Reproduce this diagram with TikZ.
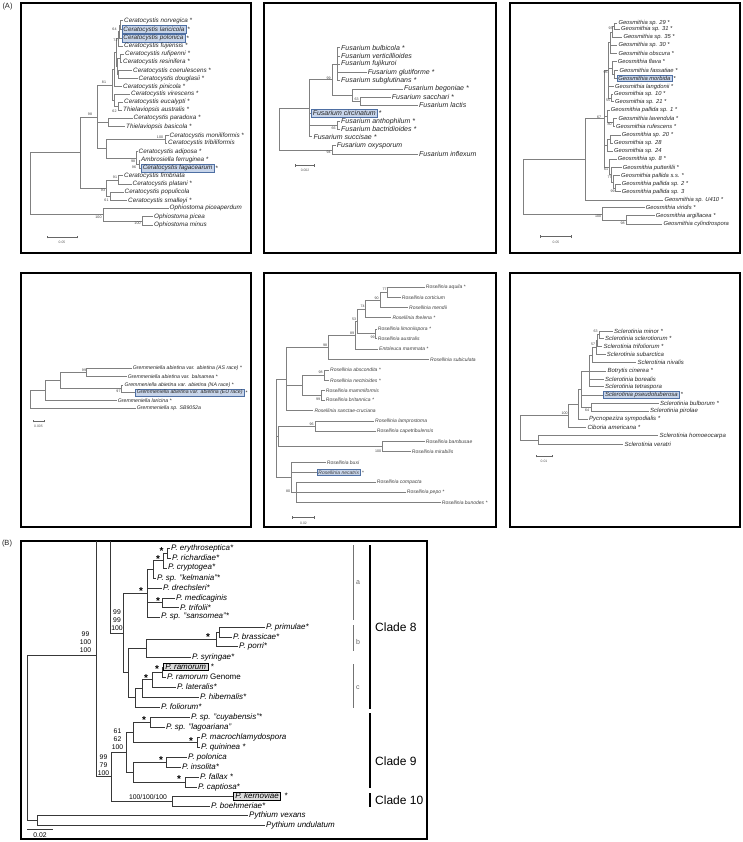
\documentclass[tikz,border=0pt]{standalone}
\usepackage{fontspec}
\setmainfont{Liberation Sans}
\definecolor{hlfill}{HTML}{C8D5EA}
\definecolor{hlline}{HTML}{4E6FA3}
\newcounter{nn}
\newcommand\E[2]{\draw[br] (#1) |- (#2);}
\newcommand\EB[2]{\draw[brB] (#1) |- (#2);}
\newcommand\lab[3][]{\stepcounter{nn}\node[#1] (L\arabic{nn}) at (#2) {#3};}
\begin{document}
\begin{tikzpicture}[x=1pt,y=-1pt,
 panel/.style={draw=black, line width=2.2pt},
 br/.style={draw=black!50, line width=0.55pt},
 brB/.style={draw=black!78, line width=0.8pt},
 leaf/.style={anchor=west, inner xsep=1pt, inner ysep=0.4pt, text=black!85},
 fCe/.style={leaf, font=\fontsize{6.3}{7}\selectfont\itshape},
 fFu/.style={leaf, font=\fontsize{7}{8}\selectfont\itshape},
 fGe/.style={leaf, font=\fontsize{5.8}{6.5}\selectfont\itshape},
 fGr/.style={leaf, font=\fontsize{5.2}{6}\selectfont\itshape},
 fRo/.style={leaf, font=\fontsize{5}{6}\selectfont\itshape, text=black!75},
 fSc/.style={leaf, font=\fontsize{6}{7}\selectfont\itshape},
 fPh/.style={leaf, font=\fontsize{8}{9}\selectfont\itshape, text=black},
 hl/.style={draw=hlline, fill=hlfill, line width=0.5pt, inner xsep=1.5pt, inner ysep=1pt},
 bhl/.style={draw=black, fill=black!14, line width=0.7pt, inner xsep=2pt, inner ysep=1pt},
 sup/.style={font=\fontsize{3.6}{4}\selectfont, text=black!75, inner sep=0.2pt},
 supB/.style={font=\fontsize{6.8}{8}\selectfont, text=black, inner sep=0.2pt, align=center},
 star/.style={font=\fontsize{10}{10}\selectfont\bfseries, text=black, inner sep=0pt},
 sbar/.style={draw=black!60, line width=0.5pt},
 slab/.style={font=\fontsize{3.4}{4}\selectfont, text=black!65, inner sep=0.2pt},
 tag/.style={font=\fontsize{7.5}{8}\selectfont, text=black!85, inner sep=0pt},
 brk/.style={draw=black!55, line width=0.6pt},
 thk/.style={draw=black, line width=1.6pt},
 clade/.style={font=\fontsize{12}{13}\selectfont, anchor=west, inner sep=0pt},
 brkl/.style={font=\fontsize{7}{8}\selectfont, text=black!60, anchor=west, inner sep=0pt}
]
\useasboundingbox (0,0) rectangle (742,842);
\fill[white] (0,0) rectangle (742,842);

\node[tag] (tagA) at (7.5,6.5) {(A)};
\node[tag] (tagB) at (7,543.5) {(B)};

% ================= A1 Ceratocystis =================
\draw[panel] (21,3) rectangle (251,253);
\node[fCe] (c1) at (123,20.7) {Ceratocystis norvegica *};
\node[fCe,hl] (c2) at (121.7,29.6) {Ceratocystis laricicola};
\node[fCe] (c2s) at (c2.east) {*};
\node[fCe,hl] (c3) at (121.7,37.9) {Ceratocystis polonica};
\node[fCe] (c3s) at (c3.east) {*};
\node[fCe] (c4) at (123,46) {Ceratocystis fujiensis *};
\node[fCe] (c5) at (124,54) {Ceratocystis rufipenni *};
\node[fCe] (c6) at (122,62.3) {Ceratocystis resinifera *};
\node[fCe] (c7) at (132,70.7) {Ceratocystis coerulescens *};
\node[fCe] (c8) at (137.5,78.7) {Ceratocystis douglasii *};
\node[fCe] (c9) at (122,86.7) {Ceratocystis pinicola *};
\node[fCe] (c10) at (130,94.3) {Ceratocystis virescens *};
\node[fCe] (c11) at (123,102.3) {Ceratocystis eucalypti *};
\node[fCe] (c12) at (122,110) {Thielaviopsis australis *};
\node[fCe] (c13) at (132.5,118.3) {Ceratocystis paradoxa *};
\node[fCe] (c14) at (125,126.7) {Thielaviopsis basicola *};
\node[fCe] (c15) at (168.5,135.7) {Ceratocystis moniliformis *};
\node[fCe] (c16) at (167,143.3) {Ceratocystis tribiliformis};
\node[fCe] (c17) at (137.5,151.7) {Ceratocystis adiposa *};
\node[fCe] (c18) at (140,160) {Ambrosiella ferruginea *};
\node[fCe,hl] (c19) at (141,168) {Ceratocystis fagacearum};
\node[fCe] (c19s) at (c19.east) {*};
\node[fCe] (c20) at (123,175.7) {Ceratocystis fimbriata};
\node[fCe] (c21) at (131.5,184) {Ceratocystis platani *};
\node[fCe] (c22) at (123.5,192.3) {Ceratocystis populicola};
\node[fCe] (c23) at (127,200.7) {Ceratocystis smalleyi *};
\node[fCe] (c24) at (168.5,208.3) {Ophiostoma piceaperdum};
\node[fCe] (c25) at (153,216.7) {Ophiostoma picea};
\node[fCe] (c26) at (153,225) {Ophiostoma minus};
\coordinate (t1) at (120.5,25.15);
\coordinate (t2) at (119.5,31.5);
\coordinate (t3) at (118.5,38.75);
\coordinate (t4) at (120,58.15);
\coordinate (t5) at (118,74.7);
\coordinate (t6) at (117,66.4);
\coordinate (t7) at (116,52.6);
\coordinate (t8) at (114.5,69.65);
\coordinate (ce) at (118,106.15);
\coordinate (cv) at (114,100.2);
\coordinate (cZ) at (112,84.9);
\coordinate (cP) at (108,122.5);
\coordinate (cM) at (165,139.5);
\coordinate (cf1) at (139,164);
\coordinate (cf2) at (136,157.85);
\coordinate (cMF) at (106,148.7);
\coordinate (cX) at (97,116.8);
\coordinate (cL1) at (118,179.85);
\coordinate (cL2) at (110,196.5);
\coordinate (cL3) at (106,188.2);
\coordinate (cC) at (80,152.5);
\coordinate (cpm) at (142,220.85);
\coordinate (cO) at (103,214.6);
\coordinate (cR) at (30,183.5);
\E{t1}{c1}\E{t1}{c2}\E{t2}{t1}\E{t2}{c3}\E{t3}{t2}\E{t3}{c4}
\E{t4}{c5}\E{t4}{c6}\E{t5}{c7}\E{t5}{c8}\E{t6}{t4}\E{t6}{t5}
\E{t7}{t3}\E{t7}{t6}\E{t8}{t7}\E{t8}{c9}
\E{ce}{c11}\E{ce}{c12}\E{cv}{c10}\E{cv}{ce}\E{cZ}{t8}\E{cZ}{cv}
\E{cP}{c13}\E{cP}{c14}\E{cM}{c15}\E{cM}{c16}
\E{cf1}{c18}\E{cf1}{c19}\E{cf2}{c17}\E{cf2}{cf1}\E{cMF}{cM}\E{cMF}{cf2}
\E{cX}{cZ}\E{cX}{cP}\E{cX}{cMF}
\E{cL1}{c20}\E{cL1}{c21}\E{cL2}{c22}\E{cL2}{c23}\E{cL3}{cL1}\E{cL3}{cL2}
\E{cC}{cX}\E{cC}{cL3}
\E{cpm}{c25}\E{cpm}{c26}\E{cO}{c24}\E{cO}{cpm}
\E{cR}{cC}\E{cR}{cO}
\lab[sup]{114.5,29.5}{64}
\lab[sup]{115.5,40.5}{72}
\lab[sup]{104,82.3}{81}
\lab[sup]{90,114.3}{98}
\lab[sup]{114.5,111}{62}
\lab[sup]{160,137.2}{100}
\lab[sup]{133,160.8}{98}
\lab[sup]{134,167.5}{96}
\lab[sup]{115,177}{91}
\lab[sup]{103,190}{93}
\lab[sup]{106.5,200.5}{61}
\lab[sup]{98.5,217}{100}
\lab[sup]{137.5,223.5}{100}
\coordinate (sa1) at (47,237); \coordinate (sa2) at (77,237);
\draw[sbar] (sa1) -- (sa2);
\draw[sbar] ([yshift=-1.3pt]sa1) -- ([yshift=1.3pt]sa1);
\draw[sbar] ([yshift=-1.3pt]sa2) -- ([yshift=1.3pt]sa2);
\node[slab] (sal) at (62,242.5) {0.05};

% ================= A2 Fusarium =================
\draw[panel] (264,3) rectangle (496,253);
\node[fFu] (f1) at (340,47.7) {Fusarium bulbicola *};
\node[fFu] (f2) at (340,56) {Fusarium verticillioides};
\node[fFu] (f3) at (340,64) {Fusarium fujikuroi};
\node[fFu] (f4) at (366.7,72.3) {Fusarium glutiforme *};
\node[fFu] (f5) at (340,80.7) {Fusarium subglutinans *};
\node[fFu] (f6) at (403,89) {Fusarium begoniae *};
\node[fFu] (f7) at (390.7,97.3) {Fusarium sacchari *};
\node[fFu] (f8) at (418,105.3) {Fusarium lactis};
\node[fFu,hl] (f9) at (311,113.3) {Fusarium circinatum};
\node[fFu] (f9s) at (f9.east) {*};
\node[fFu] (f10) at (340,121.7) {Fusarium anthophilum *};
\node[fFu] (f11) at (340,129) {Fusarium bactridioides *};
\node[fFu] (f12) at (312.3,136.7) {Fusarium succisae *};
\node[fFu] (f13) at (335.7,145.7) {Fusarium oxysporum};
\node[fFu] (f14) at (418,154) {Fusarium inflexum};
\coordinate (fG1) at (337.7,64.2);
\coordinate (fB1) at (360,101.3);
\coordinate (fB2) at (352.7,95.15);
\coordinate (fG2) at (332.7,79.7);
\coordinate (fA1) at (337.3,125.35);
\coordinate (fFc) at (309.3,108.2);
\coordinate (fOx) at (332.3,149.85);
\coordinate (fRt) at (279.3,129);
\E{fG1}{f1}\E{fG1}{f2}\E{fG1}{f3}\E{fG1}{f4}\E{fG1}{f5}
\E{fB1}{f7}\E{fB1}{f8}\E{fB2}{f6}\E{fB2}{fB1}\E{fG2}{fG1}\E{fG2}{fB2}
\E{fA1}{f10}\E{fA1}{f11}
\E{fFc}{fG2}\E{fFc}{f9}\E{fFc}{fA1}\E{fFc}{f12}
\E{fOx}{f13}\E{fOx}{f14}\E{fRt}{fFc}\E{fRt}{fOx}
\lab[sup]{328.5,78}{99}
\lab[sup]{356.5,99.5}{63}
\lab[sup]{333.5,128}{66}
\lab[sup]{328.5,152.5}{94}
\coordinate (sf1) at (295.7,165.7); \coordinate (sf2) at (314,165.7);
\draw[sbar] (sf1) -- (sf2);
\draw[sbar] ([yshift=-1.3pt]sf1) -- ([yshift=1.3pt]sf1);
\draw[sbar] ([yshift=-1.3pt]sf2) -- ([yshift=1.3pt]sf2);
\node[slab] (sfl) at (305,170.5) {0.002};

% ================= A3 Geosmithia =================
\draw[panel] (510,3) rectangle (740,253);
\node[fGe] (g1) at (617.3,23.3) {Geosmithia sp. 29 *};
\node[fGe] (g2) at (620,29.3) {Geosmithia sp. 31 *};
\node[fGe] (g3) at (622.3,37.3) {Geosmithia sp. 35 *};
\node[fGe] (g4) at (617.3,45) {Geosmithia sp. 30 *};
\node[fGe] (g5) at (617.3,53.3) {Geosmithia obscura *};
\node[fGe] (g6) at (616.7,61.7) {Geosmithia flava *};
\node[fGe] (g7) at (618.3,70) {Geosmithia fassatiae *};
\node[fGe,hl] (g8) at (616.7,78.5) {Geosmithia morbida};
\node[fGe] (g8s) at (g8.east) {*};
\node[fGe] (g9) at (614,86.7) {Geosmithia langdonii *};
\node[fGe] (g10) at (613,94.3) {Geosmithia sp. 10 *};
\node[fGe] (g11) at (614,101.7) {Geosmithia sp. 21 *};
\node[fGe] (g12) at (609.7,110) {Geosmithia pallida sp. 1 *};
\node[fGe] (g13) at (617.3,118.3) {Geosmithia lavendula *};
\node[fGe] (g14) at (615,126.7) {Geosmithia rufescens *};
\node[fGe] (g15) at (620.7,135) {Geosmithia sp. 20 *};
\node[fGe] (g16) at (613,143.3) {Geosmithia sp. 28};
\node[fGe] (g17) at (613,151) {Geosmithia sp. 24};
\node[fGe] (g18) at (616.7,159.3) {Geosmithia sp. 8 *};
\node[fGe] (g19) at (621.7,167.7) {Geosmithia putterillii *};
\node[fGe] (g20) at (620,175.7) {Geosmithia pallida s.s. *};
\node[fGe] (g21) at (620.7,184) {Geosmithia pallida sp. 2 *};
\node[fGe] (g22) at (620.7,191.7) {Geosmithia pallida sp. 3};
\node[fGe] (g23) at (663.3,200) {Geosmithia sp. U410 *};
\node[fGe] (g24) at (644.7,207.7) {Geosmithia viridis *};
\node[fGe] (g25) at (654.7,215.7) {Geosmithia argillacea *};
\node[fGe] (g26) at (662.3,224) {Geosmithia cylindrospora};
\coordinate (ga1) at (614.3,26.3);
\coordinate (ga2) at (612,31.8);
\coordinate (ga3) at (610.5,42.55);
\coordinate (ga4) at (614,74.25);
\coordinate (ga5) at (612.7,67.95);
\coordinate (ga6) at (611,98);
\coordinate (gg1) at (608.3,70.3);
\coordinate (gb1) at (613,122.5);
\coordinate (gb2) at (607.5,116.25);
\coordinate (gc1) at (610,139.15);
\coordinate (gc2) at (607,145.1);
\coordinate (gd1) at (615,187.85);
\coordinate (gd2) at (613,181.8);
\coordinate (gd3) at (611.5,174.75);
\coordinate (gd4) at (609,167);
\coordinate (gM) at (604,118.65);
\coordinate (gN1) at (585.7,159.3);
\coordinate (gv2) at (626.7,219.85);
\coordinate (gv) at (602.7,213.8);
\coordinate (gRt) at (523.3,186.5);
\E{ga1}{g1}\E{ga1}{g2}\E{ga2}{ga1}\E{ga2}{g3}
\E{ga3}{ga2}\E{ga3}{g4}\E{ga3}{g5}
\E{ga4}{g7}\E{ga4}{g8}\E{ga5}{g6}\E{ga5}{ga4}
\E{ga6}{g10}\E{ga6}{g11}
\E{gg1}{ga3}\E{gg1}{ga5}\E{gg1}{g9}\E{gg1}{ga6}
\E{gb1}{g13}\E{gb1}{g14}\E{gb2}{g12}\E{gb2}{gb1}
\E{gc1}{g15}\E{gc1}{g16}\E{gc2}{gc1}\E{gc2}{g17}
\E{gd1}{g21}\E{gd1}{g22}\E{gd2}{g20}\E{gd2}{gd1}
\E{gd3}{g19}\E{gd3}{gd2}\E{gd4}{g18}\E{gd4}{gd3}
\E{gM}{gg1}\E{gM}{gb2}\E{gM}{gc2}\E{gM}{gd4}
\E{gN1}{gM}\E{gN1}{g23}
\E{gv2}{g25}\E{gv2}{g26}\E{gv}{g24}\E{gv}{gv2}
\E{gRt}{gN1}\E{gRt}{gv}
\lab[sup]{610.5,28.5}{93}
\lab[sup]{605.5,72}{96}
\lab[sup]{608,100.5}{55}
\lab[sup]{599,116.8}{67}
\lab[sup]{609.5,124.5}{80}
\lab[sup]{606,169.5}{61}
\lab[sup]{609.5,177.3}{77}
\lab[sup]{612.5,191}{99}
\lab[sup]{598,216.5}{100}
\lab[sup]{622.5,223}{98}
\coordinate (sg1) at (540,236.7); \coordinate (sg2) at (571.7,236.7);
\draw[sbar] (sg1) -- (sg2);
\draw[sbar] ([yshift=-1.3pt]sg1) -- ([yshift=1.3pt]sg1);
\draw[sbar] ([yshift=-1.3pt]sg2) -- ([yshift=1.3pt]sg2);
\node[slab] (sgl) at (556,242) {0.05};

% ================= A4 Gremmeniella =================
\draw[panel] (21,273) rectangle (251,527);
\node[fGr] (h1) at (131.7,368.3) {Gremmeniella abietina var. abietina (AS race) *};
\node[fGr] (h2) at (126.7,376.7) {Gremmeniella abietina var. balsamea *};
\node[fGr] (h3) at (123.3,385) {Gremmeniella abietina var. abietina (NA race) *};
\node[fGr,hl] (h4) at (135,392.5) {Gremmeniella abietina var. abietina (EU race)};
\node[fGr] (h4s) at (h4.east) {*};
\node[fGr] (h5) at (116.7,400.7) {Gremmeniella laricina *};
\node[fGr] (h6) at (135.7,408.3) {Gremmeniella sp. SB9052a};
\coordinate (hH1) at (86.7,372.5);
\coordinate (hH2) at (121.7,388.75);
\coordinate (hH3) at (60,380.6);
\coordinate (hH4) at (45,390.65);
\coordinate (hRt) at (30,399.5);
\E{hH1}{h1}\E{hH1}{h2}\E{hH2}{h3}\E{hH2}{h4}
\E{hH3}{hH1}\E{hH3}{hH2}\E{hH4}{hH3}\E{hH4}{h5}
\E{hRt}{hH4}\E{hRt}{h6}
\lab[sup]{84,370}{99}
\lab[sup]{118.5,391.5}{97}
\coordinate (sh1) at (33,421); \coordinate (sh2) at (44,421);
\draw[sbar] (sh1) -- (sh2);
\draw[sbar] ([yshift=-1.3pt]sh1) -- ([yshift=1.3pt]sh1);
\draw[sbar] ([yshift=-1.3pt]sh2) -- ([yshift=1.3pt]sh2);
\node[slab] (shl) at (38.5,426) {0.005};

% ================= A5 Rosellinia =================
\draw[panel] (264,273) rectangle (496,527);
\node[fRo] (r1) at (424.7,287.3) {Rosellinia aquila *};
\node[fRo] (r2) at (400.7,297.3) {Rosellinia corticium};
\node[fRo] (r3) at (408,307.7) {Rosellinia mendii};
\node[fRo] (r4) at (391.3,317.7) {Rosellinia thelena *};
\node[fRo] (r5) at (376.7,329) {Rosellinia limoniispora *};
\node[fRo] (r6) at (376.7,338.3) {Rosellinia australis};
\node[fRo] (r7) at (378,349) {Entoleuca mammata *};
\node[fRo] (r8) at (429,359.3) {Rosellinia subiculata};
\node[fRo] (r9) at (329,370) {Rosellinia abscondita *};
\node[fRo] (r10) at (329,380.7) {Rosellinia nectrioides *};
\node[fRo] (r11) at (324.7,390.7) {Rosellinia mammiformis};
\node[fRo] (r12) at (324.7,400) {Rosellinia britannica *};
\node[fRo] (r13) at (313.3,410.7) {Rosellinia sanctae-cruciana};
\node[fRo] (r14) at (374,421.7) {Rosellinia lamprostoma};
\node[fRo] (r15) at (375.7,431.7) {Rosellinia capetribulensis};
\node[fRo] (r16) at (424.7,441.7) {Rosellinia bambusae};
\node[fRo] (r17) at (410.7,451.7) {Rosellinia mirabilis};
\node[fRo] (r18) at (325.7,462.3) {Rosellinia buxi};
\node[fRo,hl] (r19) at (316.7,472.5) {Rosellinia necatrix};
\node[fRo] (r19s) at (r19.east) {*};
\node[fRo] (r20) at (375.7,482.7) {Rosellinia compacta};
\node[fRo] (r21) at (405.7,492.7) {Rosellinia pepo *};
\node[fRo] (r22) at (440.7,502.3) {Rosellinia bunodes *};
\coordinate (rR1) at (387.7,292.3);
\coordinate (rR2) at (380,300);
\coordinate (rR3) at (365,308.85);
\coordinate (rR4) at (375,333.65);
\coordinate (rR5) at (357.5,321.25);
\coordinate (rR6) at (355.5,335.1);
\coordinate (rR7) at (328.3,347.2);
\coordinate (rR8) at (324,375.35);
\coordinate (rR9) at (321.7,395.35);
\coordinate (rR10) at (302.7,385.35);
\coordinate (rR11) at (286,378.95);
\coordinate (rR12) at (315,426.7);
\coordinate (rR13) at (382.7,446.7);
\coordinate (rR14) at (278.3,436.7);
\coordinate (rR16) at (296.7,492.5);
\coordinate (rR17) at (291.7,477.4);
\coordinate (rR15) at (276,428.2);
\E{rR1}{r1}\E{rR1}{r2}\E{rR2}{rR1}\E{rR2}{r3}\E{rR3}{rR2}\E{rR3}{r4}
\E{rR4}{r5}\E{rR4}{r6}\E{rR5}{rR3}\E{rR5}{rR4}\E{rR6}{rR5}\E{rR6}{r7}
\E{rR7}{rR6}\E{rR7}{r8}\E{rR8}{r9}\E{rR8}{r10}\E{rR9}{r11}\E{rR9}{r12}
\E{rR10}{rR8}\E{rR10}{rR9}\E{rR11}{rR7}\E{rR11}{rR10}\E{rR11}{r13}
\E{rR12}{r14}\E{rR12}{r15}\E{rR13}{r16}\E{rR13}{r17}\E{rR14}{rR12}\E{rR14}{rR13}
\E{rR16}{r20}\E{rR16}{r21}\E{rR16}{r22}
\E{rR17}{r18}\E{rR17}{r19}\E{rR17}{rR16}
\E{rR15}{rR11}\E{rR15}{rR14}\E{rR15}{rR17}
\lab[sup]{384.5,289.5}{77}
\lab[sup]{376.5,298}{90}
\lab[sup]{362.5,306.5}{74}
\lab[sup]{354,319}{53}
\lab[sup]{352,333}{89}
\lab[sup]{372.5,337.5}{99}
\lab[sup]{325,345}{98}
\lab[sup]{320.5,372.5}{98}
\lab[sup]{318,399.5}{99}
\lab[sup]{311.5,424}{96}
\lab[sup]{378,451.5}{100}
\lab[sup]{288,491.5}{80}
\coordinate (sr1) at (292.7,517.3); \coordinate (sr2) at (314.3,517.3);
\draw[sbar] (sr1) -- (sr2);
\draw[sbar] ([yshift=-1.3pt]sr1) -- ([yshift=1.3pt]sr1);
\draw[sbar] ([yshift=-1.3pt]sr2) -- ([yshift=1.3pt]sr2);
\node[slab] (srl) at (303.5,523) {0.02};

% ================= A6 Sclerotinia =================
\draw[panel] (510,273) rectangle (740,527);
\node[fSc] (s1) at (613,331) {Sclerotinia minor *};
\node[fSc] (s2) at (604,338.3) {Sclerotinia sclerotiorum *};
\node[fSc] (s3) at (602.3,346) {Sclerotinia trifoliorum *};
\node[fSc] (s4) at (605.7,354.3) {Sclerotinia subarctica};
\node[fSc] (s5) at (636.3,362.7) {Sclerotinia nivalis};
\node[fSc] (s6) at (606.3,371) {Botrytis cinerea *};
\node[fSc] (s7) at (604,379) {Sclerotinia borealis};
\node[fSc] (s8) at (604,386.7) {Sclerotinia tetraspora};
\node[fSc,hl] (s9) at (603.3,394.8) {Sclerotinia pseudotuberosa};
\node[fSc] (s9s) at (s9.east) {*};
\node[fSc] (s10) at (659,403.3) {Sclerotinia bulborum *};
\node[fSc] (s11) at (649,411) {Sclerotinia pirolae};
\node[fSc] (s12) at (588,419) {Pycnopeziza sympodialis *};
\node[fSc] (s13) at (586.3,427.3) {Ciboria americana *};
\node[fSc] (s14) at (658.3,435.7) {Sclerotinia homoeocarpa};
\node[fSc] (s15) at (623.3,444) {Sclerotinia veratri};
\coordinate (sS1) at (599.3,334.65);
\coordinate (sS2) at (597.3,340.3);
\coordinate (sS3) at (596,347.3);
\coordinate (sS4) at (592.7,355);
\coordinate (sS5) at (589.3,370.85);
\coordinate (sS6) at (591.7,407.15);
\coordinate (sS7) at (581.7,389);
\coordinate (sS8) at (578.3,404);
\coordinate (sS9) at (568.3,415.65);
\coordinate (sS10) at (538.3,439.85);
\coordinate (sRt) at (520,427.75);
\E{sS1}{s1}\E{sS1}{s2}\E{sS2}{sS1}\E{sS2}{s3}\E{sS3}{sS2}\E{sS3}{s4}
\E{sS4}{sS3}\E{sS4}{s5}
\E{sS5}{sS4}\E{sS5}{s6}\E{sS5}{s7}\E{sS5}{s8}
\E{sS6}{s10}\E{sS6}{s11}
\E{sS7}{sS5}\E{sS7}{s9}\E{sS7}{sS6}
\E{sS8}{sS7}\E{sS8}{s12}\E{sS9}{sS8}\E{sS9}{s13}
\E{sS10}{s14}\E{sS10}{s15}\E{sRt}{sS9}\E{sRt}{sS10}
\lab[sup]{595.5,331.5}{63}
\lab[sup]{593,344.5}{57}
\lab[sup]{587,410.5}{64}
\lab[sup]{564.5,413.5}{100}
\coordinate (ss1) at (536,456); \coordinate (ss2) at (552.3,456);
\draw[sbar] (ss1) -- (ss2);
\draw[sbar] ([yshift=-1.3pt]ss1) -- ([yshift=1.3pt]ss1);
\draw[sbar] ([yshift=-1.3pt]ss2) -- ([yshift=1.3pt]ss2);
\node[slab] (ssl) at (544,461) {0.01};

% ================= B Phytophthora =================
\draw[draw=black, line width=1.3pt] (21,541) rectangle (427,839);
\node[fPh] (bE) at (170,548) {P. erythroseptica*};
\node[fPh] (bR) at (171,558) {P. richardiae*};
\node[fPh] (bC) at (167,568) {P. cryptogea*};
\node[fPh] (bK) at (156,578) {P. sp. "kelmania"*};
\node[fPh] (bD) at (162,588) {P. drechsleri*};
\node[fPh] (bM) at (175,598) {P. medicaginis};
\node[fPh] (bT) at (179,607.5) {P. trifolii*};
\node[fPh] (bS) at (160,617) {P. sp. "sansomea"*};
\node[fPh] (bPr) at (265,627) {P. primulae*};
\node[fPh] (bBr) at (232,637) {P. brassicae*};
\node[fPh] (bPo) at (238,646) {P. porri*};
\node[fPh] (bSy) at (191,657) {P. syringae*};
\node[fPh,bhl] (bRa) at (163,667) {P. ramorum};
\node[fPh] (bRas) at ([xshift=1pt]bRa.east) {*};
\node[fPh] (bRG) at (166,677) {P. ramorum \upshape Genome};
\node[fPh] (bLa) at (176,687) {P. lateralis*};
\node[fPh] (bHi) at (199,697) {P. hibernalis*};
\node[fPh] (bFo) at (160,707) {P. foliorum*};
\node[fPh] (bCu) at (190,717) {P. sp. "cuyabensis"*};
\node[fPh] (bLg) at (165,727) {P. sp. "lagoariana"};
\node[fPh] (bMa) at (200,737) {P. macrochlamydospora};
\node[fPh] (bQu) at (200,747) {P. quininea *};
\node[fPh] (bPol) at (187,757) {P. polonica};
\node[fPh] (bIn) at (181,767) {P. insolita*};
\node[fPh] (bFa) at (199,777) {P. fallax *};
\node[fPh] (bCa) at (197,787) {P. captiosa*};
\node[fPh,bhl] (bKe) at (233,796) {P. kernoviae};
\node[fPh] (bKes) at ([xshift=2pt]bKe.east) {*};
\node[fPh] (bBo) at (210,806) {P. boehmeriae*};
\node[fPh] (bVe) at (248,815) {Pythium vexans};
\node[fPh] (bUn) at (265,825) {Pythium undulatum};
\coordinate (be1) at (167,553);
\coordinate (be2) at (163,560.5);
\coordinate (be3) at (153,569.25);
\coordinate (bm1) at (162,602.75);
\coordinate (baN) at (147,593.1);
\coordinate (bb2) at (219,632);
\coordinate (bb1) at (216,639);
\coordinate (bbs) at (146,648);
\coordinate (br1) at (162,672);
\coordinate (br2) at (152,679.5);
\coordinate (br3) at (142,688.25);
\coordinate (br4) at (135,697.6);
\coordinate (bc8r) at (128,672.8);
\coordinate (bc8) at (123,632.95);
\coordinate (btopA) at (110,541);
\coordinate (bcu) at (150,722);
\coordinate (bma) at (197,742);
\coordinate (bc9a) at (133,732);
\coordinate (bpo) at (166,762);
\coordinate (bfa) at (185,782);
\coordinate (bc9b) at (133,772);
\coordinate (bc9) at (126,752);
\coordinate (bc10) at (172,801);
\coordinate (bc910) at (111,776.5);
\coordinate (btopB) at (96,541);
\coordinate (bn96) at (96,655);
\coordinate (bpy) at (37,820);
\coordinate (broot) at (27,737.5);
\EB{be1}{bE}\EB{be1}{bR}\EB{be2}{be1}\EB{be2}{bC}\EB{be3}{be2}\EB{be3}{bK}
\EB{bm1}{bM}\EB{bm1}{bT}
\EB{baN}{be3}\EB{baN}{bD}\EB{baN}{bm1}\EB{baN}{bS}
\EB{bb2}{bPr}\EB{bb2}{bBr}\EB{bb1}{bb2}\EB{bb1}{bPo}\EB{bbs}{bb1}\EB{bbs}{bSy}
\EB{br1}{bRa}\EB{br1}{bRG}\EB{br2}{br1}\EB{br2}{bLa}\EB{br3}{br2}\EB{br3}{bHi}
\EB{br4}{br3}\EB{br4}{bFo}
\EB{bc8r}{bbs}\EB{bc8r}{br4}\EB{bc8}{baN}\EB{bc8}{bc8r}
\EB{btopA}{bc8}
\EB{bcu}{bCu}\EB{bcu}{bLg}\EB{bma}{bMa}\EB{bma}{bQu}\EB{bc9a}{bcu}\EB{bc9a}{bma}
\EB{bpo}{bPol}\EB{bpo}{bIn}\EB{bfa}{bFa}\EB{bfa}{bCa}\EB{bc9b}{bpo}\EB{bc9b}{bfa}
\EB{bc9}{bc9a}\EB{bc9}{bc9b}
\EB{bc10}{bKe}\EB{bc10}{bBo}
\EB{bc910}{bc9}\EB{bc910}{bc10}
\EB{btopB}{bc910}
\EB{bpy}{bVe}\EB{bpy}{bUn}
\EB{broot}{bn96}\EB{broot}{bpy}
% stars
\lab[star]{161.5,551.5}{*}
\lab[star]{158,559.5}{*}
\lab[star]{141,591.5}{*}
\lab[star]{158,601}{*}
\lab[star]{208,637}{*}
\lab[star]{157,669.5}{*}
\lab[star]{146,678}{*}
\lab[star]{144,720}{*}
\lab[star]{191,741}{*}
\lab[star]{161,760}{*}
\lab[star]{179,779.5}{*}
% supports
\lab[supB]{85.5,642}{99\\100\\100}
\lab[supB]{117,620}{99\\99\\100}
\lab[supB]{117.5,739.5}{61\\62\\100}
\lab[supB]{103.5,765}{99\\79\\100}
\lab[supB]{148,797}{100/100/100}
% scale
\coordinate (sb1) at (27,829); \coordinate (sb2) at (53,829);
\draw[brB] (sb1) -- (sb2);
\node[font=\fontsize{6.8}{8}\selectfont, inner sep=0pt] (sbl) at (40,835) {0.02};
% brackets
\coordinate (ka1) at (353,545); \coordinate (ka2) at (353,620);
\draw[brk] (ka1) -- (ka2);
\node[brkl] (kal) at (356,583) {a};
\coordinate (kb1) at (353,625); \coordinate (kb2) at (353,651);
\draw[brk] (kb1) -- (kb2);
\node[brkl] (kbl) at (356,642) {b};
\coordinate (kc1) at (353,664); \coordinate (kc2) at (353,708);
\draw[brk] (kc1) -- (kc2);
\node[brkl] (kcl) at (356,688) {c};
\coordinate (k81) at (370,545); \coordinate (k82) at (370,709);
\draw[thk] (k81) -- (k82);
\node[clade] (cl8) at (375,627) {Clade 8};
\coordinate (k91) at (370,713); \coordinate (k92) at (370,788);
\draw[thk] (k91) -- (k92);
\node[clade] (cl9) at (375,761) {Clade 9};
\coordinate (k101) at (370,793); \coordinate (k102) at (370,807);
\draw[thk] (k101) -- (k102);
\node[clade] (cl10) at (375,800) {Clade 10};
\end{tikzpicture}
\end{document}
